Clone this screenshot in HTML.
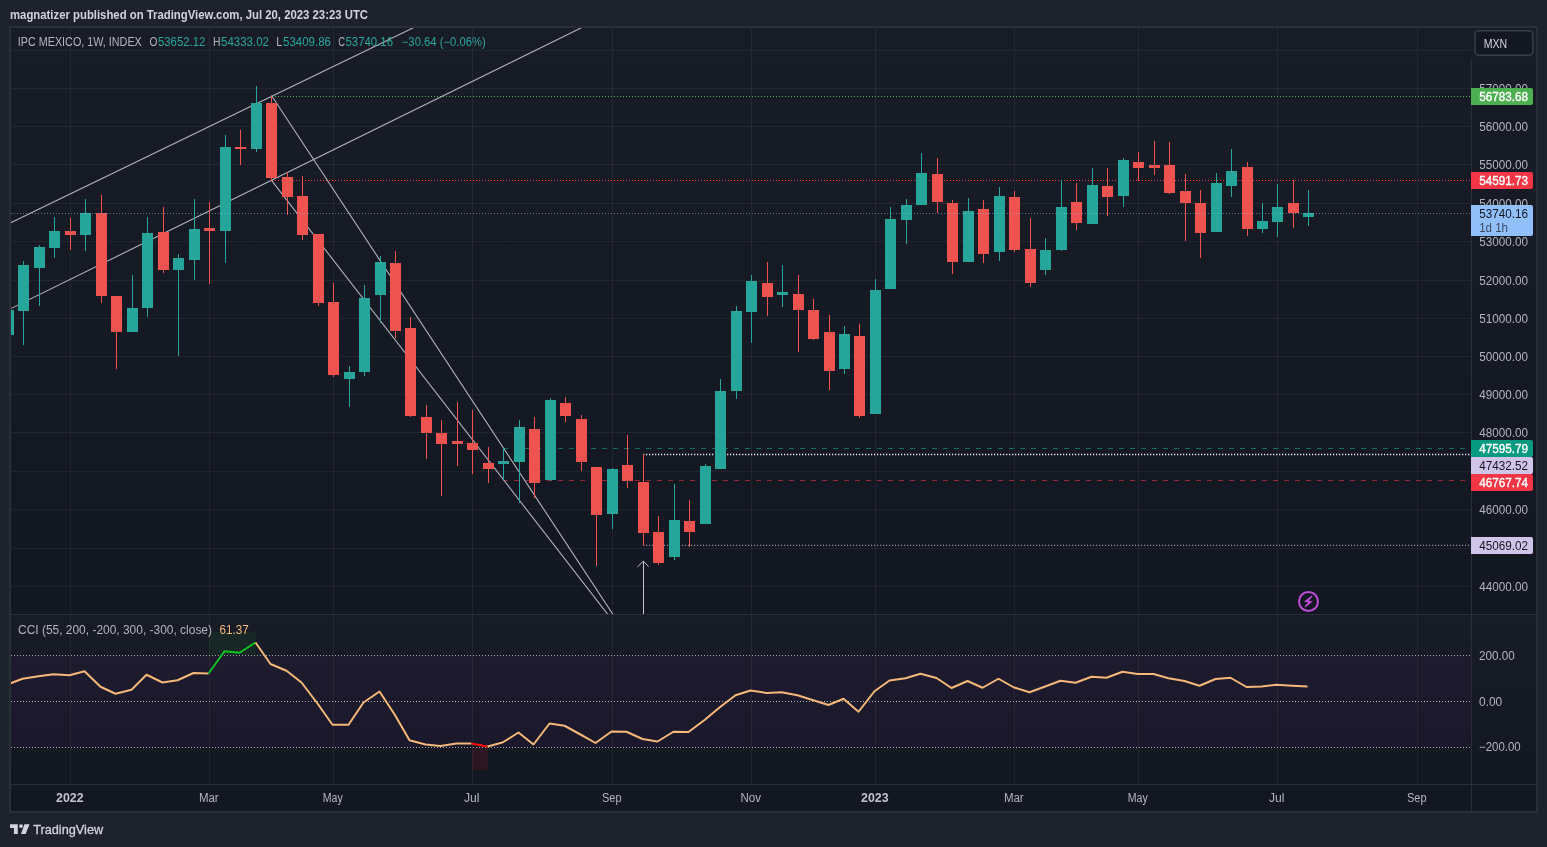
<!DOCTYPE html><html><head><meta charset="utf-8"><title>IPC MEXICO</title><style>
html,body{margin:0;padding:0;background:#1e222d;overflow:hidden}
svg{position:absolute;left:0;top:0;display:block;will-change:transform}
text{font-family:"Liberation Sans",sans-serif;font-size:12px;fill:#b2b5be}
.g line{stroke:#f0f3fa;stroke-opacity:.06;stroke-width:1;shape-rendering:crispEdges}
.c{shape-rendering:crispEdges}
.tl{stroke:#b0b3bc;stroke-width:1.1;fill:none}
</style></head><body>
<svg width="1547" height="847" viewBox="0 0 1547 847">
<defs>
<linearGradient id="bg1" x1="0" y1="0" x2="0" y2="1"><stop offset="0" stop-color="#181c27"/><stop offset="1" stop-color="#131722"/></linearGradient>
<clipPath id="cpm"><rect x="11" y="28" width="1460" height="586"/></clipPath>
<clipPath id="cpc"><rect x="11" y="615" width="1460" height="169"/></clipPath>
</defs>
<rect x="0" y="0" width="1547" height="847" fill="#1e222d"/>
<rect x="9" y="26" width="1529" height="787" fill="#2a2e39"/>
<rect x="11" y="28" width="1525" height="586" fill="url(#bg1)"/>
<rect x="11" y="615" width="1525" height="169" fill="url(#bg1)"/>
<rect x="11" y="785" width="1525" height="26" fill="#131722"/>
<g class="g">
<line x1="70.5" y1="28" x2="70.5" y2="614"/>
<line x1="70.5" y1="615" x2="70.5" y2="784"/>
<line x1="209.5" y1="28" x2="209.5" y2="614"/>
<line x1="209.5" y1="615" x2="209.5" y2="784"/>
<line x1="333.5" y1="28" x2="333.5" y2="614"/>
<line x1="333.5" y1="615" x2="333.5" y2="784"/>
<line x1="472.5" y1="28" x2="472.5" y2="614"/>
<line x1="472.5" y1="615" x2="472.5" y2="784"/>
<line x1="612.5" y1="28" x2="612.5" y2="614"/>
<line x1="612.5" y1="615" x2="612.5" y2="784"/>
<line x1="751.5" y1="28" x2="751.5" y2="614"/>
<line x1="751.5" y1="615" x2="751.5" y2="784"/>
<line x1="875.5" y1="28" x2="875.5" y2="614"/>
<line x1="875.5" y1="615" x2="875.5" y2="784"/>
<line x1="1014.5" y1="28" x2="1014.5" y2="614"/>
<line x1="1014.5" y1="615" x2="1014.5" y2="784"/>
<line x1="1138.5" y1="28" x2="1138.5" y2="614"/>
<line x1="1138.5" y1="615" x2="1138.5" y2="784"/>
<line x1="1277.5" y1="28" x2="1277.5" y2="614"/>
<line x1="1277.5" y1="615" x2="1277.5" y2="784"/>
<line x1="1417.5" y1="28" x2="1417.5" y2="614"/>
<line x1="1417.5" y1="615" x2="1417.5" y2="784"/>
<line x1="11" y1="50.5" x2="1471" y2="50.5"/>
<line x1="11" y1="88.5" x2="1471" y2="88.5"/>
<line x1="11" y1="126.5" x2="1471" y2="126.5"/>
<line x1="11" y1="164.5" x2="1471" y2="164.5"/>
<line x1="11" y1="203.5" x2="1471" y2="203.5"/>
<line x1="11" y1="241.5" x2="1471" y2="241.5"/>
<line x1="11" y1="280.5" x2="1471" y2="280.5"/>
<line x1="11" y1="318.5" x2="1471" y2="318.5"/>
<line x1="11" y1="356.5" x2="1471" y2="356.5"/>
<line x1="11" y1="394.5" x2="1471" y2="394.5"/>
<line x1="11" y1="432.5" x2="1471" y2="432.5"/>
<line x1="11" y1="471.5" x2="1471" y2="471.5"/>
<line x1="11" y1="509.5" x2="1471" y2="509.5"/>
<line x1="11" y1="548.5" x2="1471" y2="548.5"/>
<line x1="11" y1="586.5" x2="1471" y2="586.5"/>
</g>
<g clip-path="url(#cpc)">
<rect x="11" y="656" width="1459" height="91" fill="#9c27b0" fill-opacity="0.05"/>
<rect x="209" y="632" width="47" height="23" fill="#0dc520" fill-opacity="0.07"/>
<rect x="472" y="747" width="16" height="23" fill="#ff0a0a" fill-opacity="0.105"/>
<line x1="11" y1="655.5" x2="1470" y2="655.5" stroke="#a6a6ab" stroke-width="1" stroke-dasharray="1 2" shape-rendering="crispEdges"/>
<line x1="11" y1="701.5" x2="1470" y2="701.5" stroke="#a6a6ab" stroke-width="1" stroke-dasharray="1 2" shape-rendering="crispEdges"/>
<line x1="11" y1="747.5" x2="1470" y2="747.5" stroke="#a6a6ab" stroke-width="1" stroke-dasharray="1 2" shape-rendering="crispEdges"/>
<polyline points="7.5,684.5 22.5,678.75 38.5,676.25 53.5,674.25 69.5,675.25 84.5,671.25 100.5,686.75 115.5,693.75 131.5,689.75 146.5,674.75 162.5,682.5 177.5,680.25 193.5,673 208.5,673.5" fill="none" stroke="#f5b878" stroke-width="2" stroke-linejoin="round" stroke-linecap="butt"/>
<polyline points="208.5,673.5 224.5,651.25 239.5,652.75 255.5,642.5" fill="none" stroke="#0dc520" stroke-width="2" stroke-linejoin="round" stroke-linecap="butt"/>
<polyline points="255.5,642.5 270.5,664 286.5,670.75 301.5,682.5 317.5,703.5 332.5,724.75 348.5,724.75 363.5,702.5 379.5,691.5 394.5,714.25 409.5,740.25 425.5,744.5 440.5,746 456.5,743.5 471.5,743.5" fill="none" stroke="#f5b878" stroke-width="2" stroke-linejoin="round" stroke-linecap="butt"/>
<polyline points="471.5,743.5 487.5,746.5" fill="none" stroke="#ff0a0a" stroke-width="2" stroke-linejoin="round" stroke-linecap="butt"/>
<polyline points="487.5,746.5 502.5,742.5 518.5,732.5 533.5,744.5 549.5,723.5 564.5,725.75 580.5,734.5 595.5,743 611.5,731.5 626.5,731.75 642.5,739 657.5,741.5 673.5,731.75 688.5,732 704.5,720 719.5,707.5 735.5,695.25 750.5,690.5 766.5,693 781.5,692.25 797.5,695.25 812.5,700 828.5,705 843.5,698.75 858.5,711.75 874.5,691.25 889.5,680.5 905.5,678.25 920.5,673.75 936.5,678 951.5,688 967.5,681 982.5,687.75 998.5,678.75 1013.5,687.25 1029.5,692.25 1044.5,686.75 1060.5,680.75 1075.5,682.75 1091.5,676.75 1106.5,677.75 1122.5,671.75 1137.5,674 1153.5,674 1168.5,678.25 1184.5,681 1199.5,685.75 1215.5,679 1230.5,677.75 1246.5,687 1261.5,686.5 1276.5,684.75 1292.5,685.75 1307.5,686.5" fill="none" stroke="#f5b878" stroke-width="2" stroke-linejoin="round" stroke-linecap="butt"/>
</g>
<g clip-path="url(#cpm)">
<line x1="272" y1="96.5" x2="1470" y2="96.5" stroke="#4caf50" stroke-width="1" stroke-dasharray="1 2" shape-rendering="crispEdges"/>
<line x1="272" y1="180.5" x2="1470" y2="180.5" stroke="#f23645" stroke-width="1" stroke-dasharray="1 2" shape-rendering="crispEdges"/>
<line x1="503.3" y1="448.5" x2="1470" y2="448.5" stroke="#089981" stroke-opacity="0.68" stroke-width="1" stroke-dasharray="5 6" shape-rendering="crispEdges"/>
<line x1="503.3" y1="480.5" x2="1470" y2="480.5" stroke="#f23645" stroke-opacity="0.56" stroke-width="1" stroke-dasharray="5 6" shape-rendering="crispEdges"/>
<line x1="643" y1="454.5" x2="1470" y2="454.5" stroke="#e6e0f5" stroke-width="1.4" stroke-dasharray="1.3 1.7"/>
<line x1="643" y1="545.4" x2="1470" y2="545.4" stroke="#e6e0f5" stroke-width="1.1" stroke-dasharray="1.2 1.8" stroke-opacity="0.6"/>
<line class="tl" x1="10" y1="223" x2="418" y2="25.5"/>
<line class="tl" x1="10.5" y1="308.75" x2="586" y2="25.5"/>
<line class="tl" x1="271.5" y1="95.5" x2="614" y2="616"/>
<line class="tl" x1="271.5" y1="180.3" x2="609" y2="616"/>
<path class="tl" style="stroke:#c4c6ce;stroke-width:1" d="M643.5 616V561.5 M637.5 566.8L643.3 561.2L648.6 566.4"/>
<g class="c">
<rect x="8" y="310" width="1" height="25" fill="#26a69a"/>
<rect x="3" y="310" width="11" height="25" fill="#26a69a"/>
<rect x="23" y="261" width="1" height="84" fill="#26a69a"/>
<rect x="18" y="265" width="11" height="46" fill="#26a69a"/>
<rect x="39" y="245" width="1" height="61" fill="#26a69a"/>
<rect x="34" y="247" width="11" height="21" fill="#26a69a"/>
<rect x="54" y="217" width="1" height="41" fill="#26a69a"/>
<rect x="49" y="231" width="11" height="17" fill="#26a69a"/>
<rect x="70" y="218" width="1" height="32" fill="#ef5350"/>
<rect x="65" y="231" width="11" height="4" fill="#ef5350"/>
<rect x="85" y="199" width="1" height="52" fill="#26a69a"/>
<rect x="80" y="213" width="11" height="22" fill="#26a69a"/>
<rect x="101" y="195" width="1" height="108" fill="#ef5350"/>
<rect x="96" y="213" width="11" height="83" fill="#ef5350"/>
<rect x="116" y="296" width="1" height="73" fill="#ef5350"/>
<rect x="111" y="296" width="11" height="36" fill="#ef5350"/>
<rect x="132" y="275" width="1" height="57" fill="#26a69a"/>
<rect x="127" y="308" width="11" height="24" fill="#26a69a"/>
<rect x="147" y="217" width="1" height="100" fill="#26a69a"/>
<rect x="142" y="233" width="11" height="75" fill="#26a69a"/>
<rect x="163" y="207" width="1" height="66" fill="#ef5350"/>
<rect x="158" y="232" width="11" height="38" fill="#ef5350"/>
<rect x="178" y="254" width="1" height="102" fill="#26a69a"/>
<rect x="173" y="258" width="11" height="12" fill="#26a69a"/>
<rect x="194" y="199" width="1" height="81" fill="#26a69a"/>
<rect x="189" y="229" width="11" height="31" fill="#26a69a"/>
<rect x="209" y="202" width="1" height="82" fill="#ef5350"/>
<rect x="204" y="228" width="11" height="3" fill="#ef5350"/>
<rect x="225" y="135" width="1" height="128" fill="#26a69a"/>
<rect x="220" y="147" width="11" height="84" fill="#26a69a"/>
<rect x="240" y="130" width="1" height="35" fill="#ef5350"/>
<rect x="235" y="147" width="11" height="2" fill="#ef5350"/>
<rect x="256" y="86" width="1" height="66" fill="#26a69a"/>
<rect x="251" y="103" width="11" height="46" fill="#26a69a"/>
<rect x="271" y="96" width="1" height="85" fill="#ef5350"/>
<rect x="266" y="103" width="11" height="75" fill="#ef5350"/>
<rect x="287" y="172" width="1" height="43" fill="#ef5350"/>
<rect x="282" y="177" width="11" height="20" fill="#ef5350"/>
<rect x="302" y="176" width="1" height="64" fill="#ef5350"/>
<rect x="297" y="196" width="11" height="39" fill="#ef5350"/>
<rect x="318" y="234" width="1" height="72" fill="#ef5350"/>
<rect x="313" y="234" width="11" height="69" fill="#ef5350"/>
<rect x="333" y="283" width="1" height="94" fill="#ef5350"/>
<rect x="328" y="302" width="11" height="73" fill="#ef5350"/>
<rect x="349" y="366" width="1" height="41" fill="#26a69a"/>
<rect x="344" y="372" width="11" height="7" fill="#26a69a"/>
<rect x="364" y="285" width="1" height="91" fill="#26a69a"/>
<rect x="359" y="298" width="11" height="74" fill="#26a69a"/>
<rect x="380" y="256" width="1" height="67" fill="#26a69a"/>
<rect x="375" y="262" width="11" height="33" fill="#26a69a"/>
<rect x="395" y="251" width="1" height="87" fill="#ef5350"/>
<rect x="390" y="263" width="11" height="68" fill="#ef5350"/>
<rect x="410" y="317" width="1" height="100" fill="#ef5350"/>
<rect x="405" y="328" width="11" height="88" fill="#ef5350"/>
<rect x="426" y="405" width="1" height="54" fill="#ef5350"/>
<rect x="421" y="417" width="11" height="16" fill="#ef5350"/>
<rect x="441" y="420" width="1" height="76" fill="#ef5350"/>
<rect x="436" y="433" width="11" height="11" fill="#ef5350"/>
<rect x="457" y="402" width="1" height="64" fill="#ef5350"/>
<rect x="452" y="441" width="11" height="3" fill="#ef5350"/>
<rect x="472" y="410" width="1" height="64" fill="#ef5350"/>
<rect x="467" y="443" width="11" height="7" fill="#ef5350"/>
<rect x="488" y="447" width="1" height="36" fill="#ef5350"/>
<rect x="483" y="463" width="11" height="6" fill="#ef5350"/>
<rect x="503" y="448" width="1" height="32" fill="#26a69a"/>
<rect x="498" y="461" width="11" height="3" fill="#26a69a"/>
<rect x="519" y="420" width="1" height="83" fill="#26a69a"/>
<rect x="514" y="427" width="11" height="35" fill="#26a69a"/>
<rect x="534" y="417" width="1" height="81" fill="#ef5350"/>
<rect x="529" y="429" width="11" height="54" fill="#ef5350"/>
<rect x="550" y="398" width="1" height="83" fill="#26a69a"/>
<rect x="545" y="400" width="11" height="80" fill="#26a69a"/>
<rect x="565" y="397" width="1" height="25" fill="#ef5350"/>
<rect x="560" y="403" width="11" height="13" fill="#ef5350"/>
<rect x="581" y="415" width="1" height="56" fill="#ef5350"/>
<rect x="576" y="419" width="11" height="43" fill="#ef5350"/>
<rect x="596" y="467" width="1" height="99" fill="#ef5350"/>
<rect x="591" y="467" width="11" height="48" fill="#ef5350"/>
<rect x="612" y="468" width="1" height="61" fill="#26a69a"/>
<rect x="607" y="469" width="11" height="45" fill="#26a69a"/>
<rect x="627" y="435" width="1" height="53" fill="#ef5350"/>
<rect x="622" y="465" width="11" height="16" fill="#ef5350"/>
<rect x="643" y="454" width="1" height="92" fill="#ef5350"/>
<rect x="638" y="482" width="11" height="51" fill="#ef5350"/>
<rect x="658" y="516" width="1" height="49" fill="#ef5350"/>
<rect x="653" y="532" width="11" height="31" fill="#ef5350"/>
<rect x="674" y="484" width="1" height="76" fill="#26a69a"/>
<rect x="669" y="520" width="11" height="37" fill="#26a69a"/>
<rect x="689" y="500" width="1" height="47" fill="#ef5350"/>
<rect x="684" y="521" width="11" height="11" fill="#ef5350"/>
<rect x="705" y="464" width="1" height="60" fill="#26a69a"/>
<rect x="700" y="466" width="11" height="58" fill="#26a69a"/>
<rect x="720" y="379" width="1" height="90" fill="#26a69a"/>
<rect x="715" y="391" width="11" height="78" fill="#26a69a"/>
<rect x="736" y="306" width="1" height="93" fill="#26a69a"/>
<rect x="731" y="311" width="11" height="80" fill="#26a69a"/>
<rect x="751" y="275" width="1" height="68" fill="#26a69a"/>
<rect x="746" y="281" width="11" height="31" fill="#26a69a"/>
<rect x="767" y="262" width="1" height="54" fill="#ef5350"/>
<rect x="762" y="283" width="11" height="14" fill="#ef5350"/>
<rect x="782" y="265" width="1" height="42" fill="#26a69a"/>
<rect x="777" y="292" width="11" height="3" fill="#26a69a"/>
<rect x="798" y="275" width="1" height="77" fill="#ef5350"/>
<rect x="793" y="294" width="11" height="16" fill="#ef5350"/>
<rect x="813" y="299" width="1" height="41" fill="#ef5350"/>
<rect x="808" y="310" width="11" height="29" fill="#ef5350"/>
<rect x="829" y="315" width="1" height="75" fill="#ef5350"/>
<rect x="824" y="332" width="11" height="39" fill="#ef5350"/>
<rect x="844" y="326" width="1" height="48" fill="#26a69a"/>
<rect x="839" y="334" width="11" height="35" fill="#26a69a"/>
<rect x="859" y="324" width="1" height="94" fill="#ef5350"/>
<rect x="854" y="336" width="11" height="80" fill="#ef5350"/>
<rect x="875" y="279" width="1" height="135" fill="#26a69a"/>
<rect x="870" y="290" width="11" height="124" fill="#26a69a"/>
<rect x="890" y="207" width="1" height="82" fill="#26a69a"/>
<rect x="885" y="219" width="11" height="70" fill="#26a69a"/>
<rect x="906" y="199" width="1" height="45" fill="#26a69a"/>
<rect x="901" y="205" width="11" height="15" fill="#26a69a"/>
<rect x="921" y="153" width="1" height="52" fill="#26a69a"/>
<rect x="916" y="173" width="11" height="32" fill="#26a69a"/>
<rect x="937" y="158" width="1" height="55" fill="#ef5350"/>
<rect x="932" y="174" width="11" height="28" fill="#ef5350"/>
<rect x="952" y="200" width="1" height="74" fill="#ef5350"/>
<rect x="947" y="203" width="11" height="59" fill="#ef5350"/>
<rect x="968" y="198" width="1" height="64" fill="#26a69a"/>
<rect x="963" y="211" width="11" height="51" fill="#26a69a"/>
<rect x="983" y="200" width="1" height="63" fill="#ef5350"/>
<rect x="978" y="209" width="11" height="45" fill="#ef5350"/>
<rect x="999" y="187" width="1" height="74" fill="#26a69a"/>
<rect x="994" y="196" width="11" height="56" fill="#26a69a"/>
<rect x="1014" y="191" width="1" height="61" fill="#ef5350"/>
<rect x="1009" y="197" width="11" height="53" fill="#ef5350"/>
<rect x="1030" y="218" width="1" height="69" fill="#ef5350"/>
<rect x="1025" y="249" width="11" height="34" fill="#ef5350"/>
<rect x="1045" y="238" width="1" height="37" fill="#26a69a"/>
<rect x="1040" y="250" width="11" height="20" fill="#26a69a"/>
<rect x="1061" y="180" width="1" height="71" fill="#26a69a"/>
<rect x="1056" y="207" width="11" height="43" fill="#26a69a"/>
<rect x="1076" y="183" width="1" height="47" fill="#ef5350"/>
<rect x="1071" y="202" width="11" height="21" fill="#ef5350"/>
<rect x="1092" y="168" width="1" height="56" fill="#26a69a"/>
<rect x="1087" y="185" width="11" height="39" fill="#26a69a"/>
<rect x="1107" y="168" width="1" height="48" fill="#ef5350"/>
<rect x="1102" y="186" width="11" height="11" fill="#ef5350"/>
<rect x="1123" y="158" width="1" height="49" fill="#26a69a"/>
<rect x="1118" y="160" width="11" height="36" fill="#26a69a"/>
<rect x="1138" y="152" width="1" height="29" fill="#ef5350"/>
<rect x="1133" y="162" width="11" height="6" fill="#ef5350"/>
<rect x="1154" y="141" width="1" height="34" fill="#ef5350"/>
<rect x="1149" y="165" width="11" height="3" fill="#ef5350"/>
<rect x="1169" y="142" width="1" height="52" fill="#ef5350"/>
<rect x="1164" y="165" width="11" height="28" fill="#ef5350"/>
<rect x="1185" y="174" width="1" height="67" fill="#ef5350"/>
<rect x="1180" y="191" width="11" height="12" fill="#ef5350"/>
<rect x="1200" y="190" width="1" height="68" fill="#ef5350"/>
<rect x="1195" y="203" width="11" height="30" fill="#ef5350"/>
<rect x="1216" y="173" width="1" height="59" fill="#26a69a"/>
<rect x="1211" y="183" width="11" height="49" fill="#26a69a"/>
<rect x="1231" y="149" width="1" height="48" fill="#26a69a"/>
<rect x="1226" y="171" width="11" height="15" fill="#26a69a"/>
<rect x="1247" y="162" width="1" height="74" fill="#ef5350"/>
<rect x="1242" y="167" width="11" height="62" fill="#ef5350"/>
<rect x="1262" y="203" width="1" height="30" fill="#26a69a"/>
<rect x="1257" y="221" width="11" height="8" fill="#26a69a"/>
<rect x="1277" y="184" width="1" height="53" fill="#26a69a"/>
<rect x="1272" y="207" width="11" height="15" fill="#26a69a"/>
<rect x="1293" y="180" width="1" height="48" fill="#ef5350"/>
<rect x="1288" y="203" width="11" height="10" fill="#ef5350"/>
<rect x="1308" y="190" width="1" height="36" fill="#26a69a"/>
<rect x="1303" y="213" width="11" height="4" fill="#26a69a"/>
</g>
<line x1="11" y1="213.5" x2="1470" y2="213.5" stroke="#90bff9" stroke-opacity="0.55" stroke-width="1" stroke-dasharray="1 2" shape-rendering="crispEdges"/>
</g>
<g transform="translate(1308.5 601.5)"><circle r="9.5" fill="none" stroke="#bd4fd9" stroke-width="2"/><path d="M3.0-5.7L-4.6 0.2L-0.3 0.75L-4.0 5.1L-3.0 5.7L4.4-0.2L0.3-0.75L4.0-5.1Z" fill="#bd4fd9"/></g>
<g shape-rendering="crispEdges">
<rect x="11" y="614" width="1525" height="1" fill="#2a2e39"/>
<rect x="11" y="784" width="1525" height="1" fill="#2a2e39"/>
<rect x="1471" y="59" width="1" height="752" fill="#2a2e39"/>
</g>
<rect x="1475" y="30.7" width="57.9" height="24.6" rx="4" ry="4" fill="#131722" stroke="#3a3e4b" stroke-width="1.5"/>
<text x="1483.7" y="48" textLength="23.5" lengthAdjust="spacingAndGlyphs" style="fill:#d1d4dc">MXN</text>
<text x="1479.2" y="92.8" textLength="48.8" lengthAdjust="spacingAndGlyphs">57000.00</text>
<text x="1479.2" y="130.8" textLength="48.8" lengthAdjust="spacingAndGlyphs">56000.00</text>
<text x="1479.2" y="168.8" textLength="48.8" lengthAdjust="spacingAndGlyphs">55000.00</text>
<text x="1479.2" y="207.8" textLength="48.8" lengthAdjust="spacingAndGlyphs">54000.00</text>
<text x="1479.2" y="245.8" textLength="48.8" lengthAdjust="spacingAndGlyphs">53000.00</text>
<text x="1479.2" y="284.8" textLength="48.8" lengthAdjust="spacingAndGlyphs">52000.00</text>
<text x="1479.2" y="322.8" textLength="48.8" lengthAdjust="spacingAndGlyphs">51000.00</text>
<text x="1479.2" y="360.8" textLength="48.8" lengthAdjust="spacingAndGlyphs">50000.00</text>
<text x="1479.2" y="398.8" textLength="48.8" lengthAdjust="spacingAndGlyphs">49000.00</text>
<text x="1479.2" y="436.8" textLength="48.8" lengthAdjust="spacingAndGlyphs">48000.00</text>
<text x="1479.2" y="513.8" textLength="48.8" lengthAdjust="spacingAndGlyphs">46000.00</text>
<text x="1479.2" y="590.8" textLength="48.8" lengthAdjust="spacingAndGlyphs">44000.00</text>
<text x="1479" y="659.8" textLength="35.6" lengthAdjust="spacingAndGlyphs">200.00</text>
<text x="1479" y="705.5" textLength="23.2" lengthAdjust="spacingAndGlyphs">0.00</text>
<text x="1479" y="751.3" textLength="41.7" lengthAdjust="spacingAndGlyphs">−200.00</text>
<path d="M1471 88 H1531 a2 2 0 0 1 2 2 V103 a2 2 0 0 1 -2 2 H1471 Z" fill="#4caf50"/>
<text x="1479.2" y="100.8" textLength="48.8" lengthAdjust="spacingAndGlyphs" style="fill:#ffffff" stroke="#ffffff" stroke-width="0.35">56783.68</text>
<path d="M1471 172 H1531 a2 2 0 0 1 2 2 V187 a2 2 0 0 1 -2 2 H1471 Z" fill="#f23645"/>
<text x="1479.2" y="184.8" textLength="48.8" lengthAdjust="spacingAndGlyphs" style="fill:#ffffff" stroke="#ffffff" stroke-width="0.35">54591.73</text>
<path d="M1471 205 H1531 a2 2 0 0 1 2 2 V234 a2 2 0 0 1 -2 2 H1471 Z" fill="#90bff9"/>
<text x="1479.2" y="217.8" textLength="48.8" lengthAdjust="spacingAndGlyphs" style="fill:#131722">53740.16</text>
<text x="1479.2" y="231.8" textLength="28.8" lengthAdjust="spacingAndGlyphs" style="fill:#3b4a63">1d 1h</text>
<path d="M1471 440 H1531 a2 2 0 0 1 2 2 V455 a2 2 0 0 1 -2 2 H1471 Z" fill="#089981"/>
<text x="1479.2" y="452.8" textLength="48.8" lengthAdjust="spacingAndGlyphs" style="fill:#ffffff" stroke="#ffffff" stroke-width="0.35">47595.79</text>
<path d="M1471 457 H1531 a2 2 0 0 1 2 2 V472 a2 2 0 0 1 -2 2 H1471 Z" fill="#d1c4e9"/>
<text x="1479.2" y="469.8" textLength="48.8" lengthAdjust="spacingAndGlyphs" style="fill:#131722">47432.52</text>
<path d="M1471 474 H1531 a2 2 0 0 1 2 2 V489 a2 2 0 0 1 -2 2 H1471 Z" fill="#f23645"/>
<text x="1479.2" y="486.8" textLength="48.8" lengthAdjust="spacingAndGlyphs" style="fill:#ffffff" stroke="#ffffff" stroke-width="0.35">46767.74</text>
<path d="M1471 537 H1531 a2 2 0 0 1 2 2 V552 a2 2 0 0 1 -2 2 H1471 Z" fill="#d1c4e9"/>
<text x="1479.2" y="549.8" textLength="48.8" lengthAdjust="spacingAndGlyphs" style="fill:#131722">45069.02</text>
<text x="69.8" y="802" text-anchor="middle" textLength="27.5" lengthAdjust="spacingAndGlyphs" font-weight="bold" style="fill:#c1c4cd">2022</text>
<text x="208.8" y="802" text-anchor="middle" textLength="19.8" lengthAdjust="spacingAndGlyphs">Mar</text>
<text x="332.8" y="802" text-anchor="middle" textLength="20" lengthAdjust="spacingAndGlyphs">May</text>
<text x="471.8" y="802" text-anchor="middle" textLength="15.5" lengthAdjust="spacingAndGlyphs">Jul</text>
<text x="611.8" y="802" text-anchor="middle" textLength="19.5" lengthAdjust="spacingAndGlyphs">Sep</text>
<text x="750.8" y="802" text-anchor="middle" textLength="20.5" lengthAdjust="spacingAndGlyphs">Nov</text>
<text x="874.8" y="802" text-anchor="middle" textLength="27.5" lengthAdjust="spacingAndGlyphs" font-weight="bold" style="fill:#c1c4cd">2023</text>
<text x="1013.8" y="802" text-anchor="middle" textLength="19.8" lengthAdjust="spacingAndGlyphs">Mar</text>
<text x="1137.8" y="802" text-anchor="middle" textLength="20" lengthAdjust="spacingAndGlyphs">May</text>
<text x="1276.8" y="802" text-anchor="middle" textLength="15.5" lengthAdjust="spacingAndGlyphs">Jul</text>
<text x="1416.8" y="802" text-anchor="middle" textLength="19.5" lengthAdjust="spacingAndGlyphs">Sep</text>
<text x="17.8" y="45.9" textLength="124" lengthAdjust="spacingAndGlyphs">IPC MEXICO, 1W, INDEX</text>
<text x="149.6" y="45.9" textLength="7.9" lengthAdjust="spacingAndGlyphs">O</text>
<text x="158" y="45.9" textLength="47.3" lengthAdjust="spacingAndGlyphs" style="fill:#26a69a">53652.12</text>
<text x="213" y="45.9" textLength="7.5" lengthAdjust="spacingAndGlyphs">H</text>
<text x="221" y="45.9" textLength="48" lengthAdjust="spacingAndGlyphs" style="fill:#26a69a">54333.02</text>
<text x="276.3" y="45.9" textLength="6" lengthAdjust="spacingAndGlyphs">L</text>
<text x="283" y="45.9" textLength="48" lengthAdjust="spacingAndGlyphs" style="fill:#26a69a">53409.86</text>
<text x="338.2" y="45.9" textLength="6.8" lengthAdjust="spacingAndGlyphs">C</text>
<text x="345.5" y="45.9" textLength="47.5" lengthAdjust="spacingAndGlyphs" style="fill:#26a69a">53740.16</text>
<text x="401.8" y="45.9" textLength="83.9" lengthAdjust="spacingAndGlyphs" style="fill:#26a69a">−30.64 (−0.06%)</text>
<text x="18" y="634.25" textLength="194" lengthAdjust="spacingAndGlyphs">CCI (55, 200, -200, 300, -300, close)</text>
<text x="219.5" y="634.25" textLength="29.2" lengthAdjust="spacingAndGlyphs" style="fill:#f5b878">61.37</text>
<text x="10" y="18.5" textLength="358" lengthAdjust="spacingAndGlyphs" style="fill:#d1d4dc" font-weight="bold">magnatizer published on TradingView.com, Jul 20, 2023 23:23 UTC</text>
<g fill="#d1d4dc"><path d="M10 824.2H17.8V834H13.9V828H10Z"/><circle cx="21" cy="826.1" r="1.9"/><path d="M24.4 824.2H29.6L25.6 834H21Z"/></g>
<text x="33.2" y="834" textLength="70" lengthAdjust="spacingAndGlyphs" style="font-size:13px;fill:#d1d4dc;stroke:#d1d4dc;stroke-width:.3">TradingView</text>
</svg></body></html>
